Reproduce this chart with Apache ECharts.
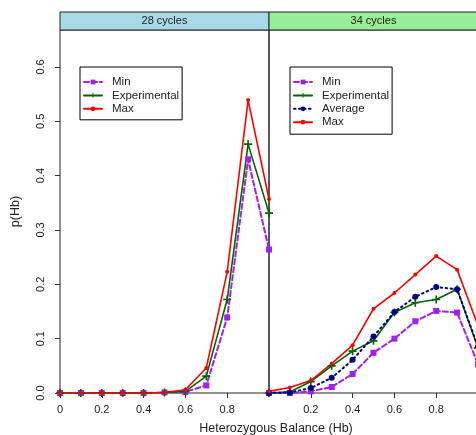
<!DOCTYPE html>
<html><head><meta charset="utf-8">
<script src="https://cdn.jsdelivr.net/npm/echarts@6/dist/echarts.min.js"></script>
<style>html,body{margin:0;padding:0;background:#fff}#c{width:476px;height:435px}</style>
</head><body><div id="c"></div>
<script>
// ---- data ----
const xValues = [0, 0.1, 0.2, 0.3, 0.4, 0.5, 0.6, 0.7, 0.8, 0.9, 1.0];
const panelTitles = ['28 cycles', '34 cycles'];
const min28 = [0, 0, 0, 0, 0, 0.001, 0.002, 0.014, 0.139, 0.430, 0.264];
const exp28 = [0, 0, 0, 0, 0, 0.001, 0.003, 0.031, 0.172, 0.458, 0.331];
const max28 = [0, 0, 0, 0, 0, 0.001, 0.006, 0.046, 0.223, 0.539, 0.357];
const min34 = [0, 0, 0.003, 0.011, 0.035, 0.074, 0.100, 0.132, 0.151, 0.148, 0.053];
const exp34 = [0, 0.002, 0.021, 0.050, 0.077, 0.096, 0.148, 0.166, 0.172, 0.191, 0.083];
const avg34 = [0, 0.001, 0.009, 0.028, 0.061, 0.104, 0.149, 0.177, 0.195, 0.191, 0.085];
const max34 = [0.003, 0.010, 0.023, 0.054, 0.088, 0.155, 0.184, 0.218, 0.252, 0.227, 0.124];
const yTicks = [0, 0.1, 0.2, 0.3, 0.4, 0.5, 0.6];
const xTicksLeft = [0, 0.2, 0.4, 0.6, 0.8];
const xTicksRight = [0.2, 0.4, 0.6, 0.8, 1.0];
const xLabelsRight = [0.2, 0.4, 0.6, 0.8];
const xTitle = 'Heterozygous Balance (Hb)';
const yTitle = 'p(Hb)';

// ---- layout ----
const L = 60, W = 209, T = 30, H = 363, STRIP = 18;
const FONT = '"Liberation Sans", Arial, Helvetica, sans-serif';
const pairs = v => xValues.map((x, i) => [x, v[i]]);

const styles = {
  'Min': {color: '#a020f0', type: [5, 3], symbol: 'rect', size: 6, width: 2},
  'Experimental': {color: '#006400', type: 'solid', symbol: 'path://M4,0h2v4h4v2h-4v4h-2v-4h-4v-2h4z', size: 8, width: 1.6},
  'Average': {color: '#000080', type: [1.5, 3.5], symbol: 'circle', size: 6, width: 2},
  'Max': {color: '#ff0000', type: 'solid', symbol: 'circle', size: 4, width: 1.6}
};
function mk(name, vals, idx) {
  const s = styles[name];
  return {
    type: 'line', name, xAxisIndex: idx, yAxisIndex: idx, data: pairs(vals),
    symbol: s.symbol, symbolSize: s.size, showSymbol: true,
    lineStyle: {color: s.color, width: s.width, type: s.type, cap: 'round'},
    itemStyle: {color: s.color, borderWidth: 0},
    emphasis: {disabled: true}, animation: false
  };
}
const xAxisBase = (idx, ticks, labels) => ({
  gridIndex: idx, type: 'value', min: 0, max: 1,
  axisLine: {show: false}, splitLine: {show: false},
  axisTick: {show: true, length: 5, customValues: ticks, lineStyle: {color: '#333'}},
  axisLabel: {show: true, customValues: labels, margin: 11, fontSize: 11, color: '#222', fontFamily: FONT,
    formatter: v => (v === 0 ? '0' : String(Math.round(v * 10) / 10))}
});
const yAxisBase = (idx, show) => ({
  gridIndex: idx, type: 'value', min: 0, max: 0.668,
  axisLine: {show: false}, splitLine: {show: false},
  axisTick: {show: show, length: 5, customValues: yTicks, lineStyle: {color: '#333'}},
  axisLabel: {show: show, customValues: yTicks, rotate: 90, margin: 14, fontSize: 11, color: '#222', fontFamily: FONT,
    formatter: v => v.toFixed(1)},
  name: show ? yTitle : '', nameLocation: 'middle', nameGap: 38, nameRotate: 90,
  nameTextStyle: {fontSize: 12.5, color: '#222', fontFamily: FONT}
});
const legendBase = (left, names, padBottom) => ({
  left, top: 67, orient: 'vertical', data: names,
  borderColor: '#000', borderWidth: 1, borderRadius: 0, padding: [9, 3, padBottom, 3],
  itemWidth: 18, itemHeight: 6, itemGap: 1.4, selectedMode: false,
  textStyle: {fontSize: 11.5, color: '#222', fontFamily: FONT, padding: [0, 0, 0, 5]}
});

const option = {
  backgroundColor: '#fff', animation: false,
  grid: [
    {left: L, top: T, width: W, height: H, show: true, borderColor: '#222', borderWidth: 1, containLabel: false, outerBoundsMode: 'none'},
    {left: L + W, top: T, width: W, height: H, show: true, borderColor: '#222', borderWidth: 1, containLabel: false, outerBoundsMode: 'none'}
  ],
  xAxis: [xAxisBase(0, xTicksLeft, xTicksLeft), xAxisBase(1, xTicksRight, xLabelsRight)],
  yAxis: [yAxisBase(0, true), yAxisBase(1, false)],
  legend: [
    legendBase(80, ['Min', 'Experimental', 'Max'], 5),
    legendBase(290, ['Min', 'Experimental', 'Average', 'Max'], 6)
  ],
  series: [
    mk('Min', min28, 0), mk('Experimental', exp28, 0), mk('Max', max28, 0),
    mk('Min', min34, 1), mk('Experimental', exp34, 1), mk('Average', avg34, 1), mk('Max', max34, 1)
  ],
  graphic: [
    {type: 'rect', shape: {x: L, y: T - STRIP, width: W, height: STRIP}, style: {fill: '#a9d8e6', stroke: '#222', lineWidth: 1}},
    {type: 'rect', shape: {x: L + W, y: T - STRIP, width: W, height: STRIP}, style: {fill: '#98ee98', stroke: '#222', lineWidth: 1}},
    {type: 'text', x: L + W / 2, y: T - STRIP / 2, style: {text: panelTitles[0], fill: '#222', font: '11px ' + FONT, textAlign: 'center', textVerticalAlign: 'middle'}},
    {type: 'text', x: L + W * 1.5, y: T - STRIP / 2, style: {text: panelTitles[1], fill: '#222', font: '11px ' + FONT, textAlign: 'center', textVerticalAlign: 'middle'}},
    {type: 'text', x: 276, y: 429, style: {text: xTitle, fill: '#222', font: '12.5px ' + FONT, textAlign: 'center', textVerticalAlign: 'middle'}}
  ]
};
const chart = echarts.init(document.getElementById('c'), null, {renderer: 'canvas'});
chart.setOption(option);
</script>
</body></html>
